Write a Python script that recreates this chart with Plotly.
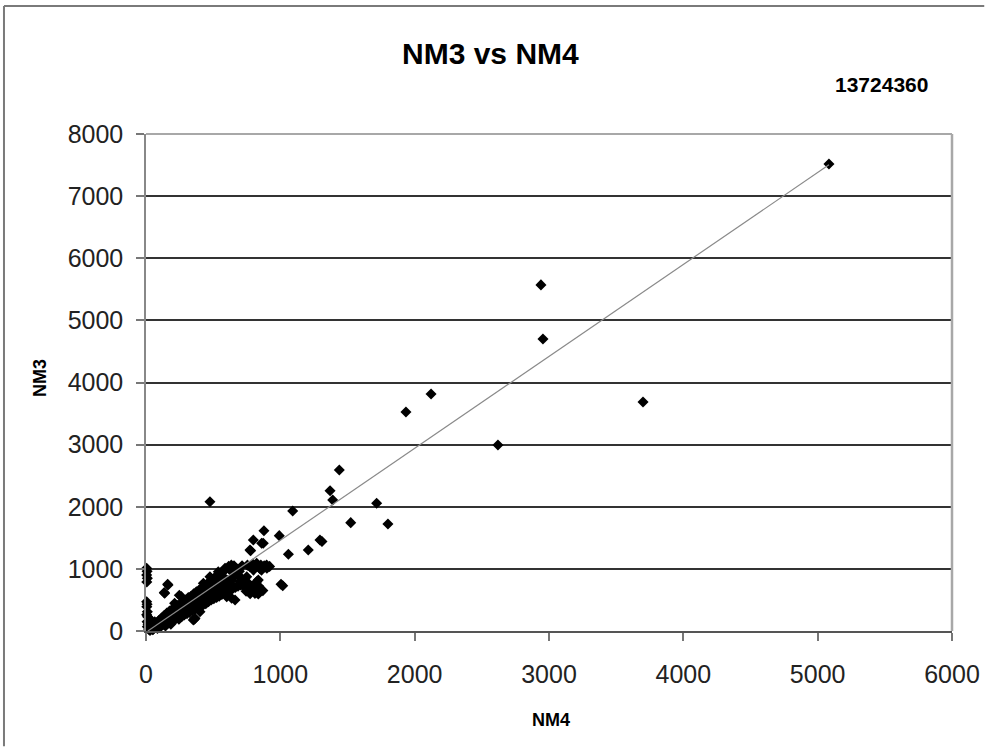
import plotly.graph_objects as go
import numpy as np

# ---- data ----
nm4 = [
    5, 8, 5, 10, 6, 5, 8, 6, 10, 5, 12, 8, 15, 10, 20, 30, 40, 50, 25, 35,
    60, 70, 80, 90, 100, 110, 120, 130, 140, 150, 160, 170, 180, 190, 200, 210, 220, 230, 240, 250,
    260, 270, 280, 290, 300, 310, 320, 330, 340, 350, 360, 370, 380, 390, 400, 410, 420, 430, 440, 450,
    460, 470, 480, 490, 500, 520, 540, 560, 580, 600,
    164, 139, 263, 213, 313, 352, 402, 377, 427, 476, 452, 526, 551, 588, 625, 650, 700, 650, 601, 663,
    750, 762, 824, 849, 774, 824, 836, 774, 861, 898, 538, 476, 377, 328, 365, 290, 638, 712, 811, 836,
    836, 1018, 800, 850, 880, 920, 900, 860,
    30, 45, 55, 65, 75, 85, 95, 105, 115, 125, 135, 145, 155, 165, 175, 185, 195, 205, 215, 225,
    235, 245, 255, 265, 275, 285, 295, 305, 315, 325, 335, 345, 355, 365, 375, 385, 395, 405, 415, 425,
    435, 445, 455, 465, 475, 485, 495, 505, 515, 525, 535, 545, 555, 565, 575, 585, 595, 605, 615, 625,
    635, 645, 655, 665, 675, 685, 695, 705, 715, 725, 735, 745, 755, 765, 775, 785, 795, 805, 815, 825,
    840, 855, 870, 885, 600, 620, 640, 660, 680, 700, 720, 560, 580, 540, 520, 500, 480, 460, 440, 420,
    400, 380, 360, 340, 161, 136, 248, 360, 1005, 831,
    476, 1092, 1295, 1310, 1208, 1060, 1439, 1370, 1390, 1524, 1717, 878, 992, 799, 779, 873, 1801,
    1935, 2122, 2620, 2940, 2955, 3700, 5084,
]
nm3 = [
    1010, 960, 900, 850, 790, 470, 430, 390, 310, 260, 230, 150, 110, 70, 30, 10, 50, 20, 120, 180,
    80, 120, 60, 100, 140, 90, 160, 130, 190, 150, 210, 180, 240, 200, 260, 230, 300, 270, 330, 290,
    360, 320, 400, 370, 430, 390, 460, 420, 480, 450, 510, 470, 540, 500, 570, 530, 600, 560, 640, 590,
    680, 620, 720, 650, 760, 700, 800, 740, 860, 820,
    741, 607, 553, 446, 472, 177, 311, 607, 768, 874, 660, 794, 607, 1009, 982, 874, 794, 714, 553, 499,
    874, 768, 1090, 1035, 1035, 794, 607, 1304, 1412, 1063, 955, 741, 446, 391, 204, 472, 526, 768, 606, 596,
    821, 729, 980, 1000, 1050, 1040, 1010, 980,
    40, 90, 30, 150, 110, 40, 170, 60, 210, 100, 250, 80, 290, 130, 320, 110, 350, 170, 380, 200,
    410, 190, 440, 230, 470, 260, 500, 280, 540, 300, 560, 330, 600, 350, 630, 380, 660, 400, 690, 420,
    720, 440, 760, 470, 790, 500, 830, 520, 870, 540, 900, 560, 930, 590, 960, 610, 1000, 640, 1040, 660,
    1060, 680, 1050, 700, 1000, 720, 960, 740, 1050, 760, 700, 640, 1060, 660, 600, 720, 1080, 680, 750, 640,
    720, 1060, 650, 1030, 700, 760, 820, 900, 940, 870, 830, 680, 720, 640, 760, 640, 580, 560, 520, 480,
    460, 430, 420, 400, 752, 618, 575, 188, 752, 618,
    2082, 1932, 1465, 1440, 1304, 1235, 2592, 2259, 2109, 1744, 2056, 1615, 1535, 1465, 1293, 1412, 1723,
    3526, 3816, 2995, 5571, 4701, 3687, 7518,
]
trend_slope = 1.48
trend_intercept = -20.0

title_text = "NM3 vs NM4"
id_text = "13724360"
x_title = "NM4"
y_title = "NM3"
x_ticks = [0, 1000, 2000, 3000, 4000, 5000, 6000]
y_ticks = [0, 1000, 2000, 3000, 4000, 5000, 6000, 7000, 8000]

# trend line endpoints from the data range
tx = np.array([14, max(nm4)])
ty = trend_slope * tx + trend_intercept

FONT = "Liberation Sans, Arial, sans-serif"

fig = go.Figure()
fig.add_trace(go.Scatter(x=nm4, y=nm3, mode="markers",
                         marker=dict(symbol="diamond", size=8.5, color="black"),
                         showlegend=False, cliponaxis=False))
fig.add_trace(go.Scatter(x=tx, y=ty, mode="lines",
                         line=dict(color="#8a8a8a", width=1.2),
                         showlegend=False))

fig.update_layout(
    width=985, height=747,
    margin=dict(l=146, r=33, t=134, b=116),
    paper_bgcolor="white", plot_bgcolor="white",
    font=dict(family=FONT, color="black"),
    xaxis=dict(range=[0, 6000], tickvals=x_ticks, ticks="outside", ticklen=8,
               tickcolor="#777", tickwidth=1.5, showgrid=False, zeroline=False,
               showline=True, linecolor="#555", linewidth=2, ticklabelstandoff=12,
               automargin=False,
               tickfont=dict(size=25, family=FONT, color="#222")),
    yaxis=dict(range=[0, 8000], tickvals=y_ticks, ticks="outside", ticklen=8,
               tickcolor="#777", tickwidth=1.5, showgrid=True, gridcolor="#333333",
               gridwidth=1.8, zeroline=False, showline=True, linecolor="#888",
               linewidth=1.5, ticklabelstandoff=8, automargin=False,
               tickfont=dict(size=25, family=FONT, color="#222")),
    shapes=[
        # plot-area border (top and right)
        dict(type="line", xref="paper", yref="paper", x0=0, x1=1, y0=1, y1=1,
             line=dict(color="#a8a8a8", width=2)),
        dict(type="line", xref="paper", yref="paper", x0=1, x1=1, y0=0, y1=1,
             line=dict(color="#a8a8a8", width=2.5)),
        # outer chart border: only the left and top edges are inside the picture
        dict(type="line", xref="paper", yref="paper", x0=-0.1762, x1=-0.1762, y0=-0.232, y1=1.2575,
             line=dict(color="#7a7a7a", width=2), layer="below"),
        dict(type="line", xref="paper", yref="paper", x0=-0.1762, x1=1.04, y0=1.2575, y1=1.2575,
             line=dict(color="#7a7a7a", width=2), layer="below"),
    ],
    annotations=[
        dict(text=f"<b>{title_text}</b>", xref="paper", yref="paper", x=0.427, y=1.161,
             showarrow=False, font=dict(size=30, family=FONT), xanchor="center", yanchor="middle"),
        dict(text=f"<b>{id_text}</b>", xref="paper", yref="paper", x=0.912, y=1.1006,
             showarrow=False, font=dict(size=21, family=FONT), xanchor="center", yanchor="middle"),
        dict(text=f"<b>{x_title}</b>", xref="paper", yref="paper", x=0.5025, y=-0.179,
             showarrow=False, font=dict(size=18, family=FONT), xanchor="center", yanchor="middle"),
        dict(text=f"<b>{y_title}</b>", xref="paper", yref="paper", x=-0.1315, y=0.509,
             showarrow=False, textangle=-90, font=dict(size=18, family=FONT),
             xanchor="center", yanchor="middle"),
    ],
)

fig.write_html("out.html")
